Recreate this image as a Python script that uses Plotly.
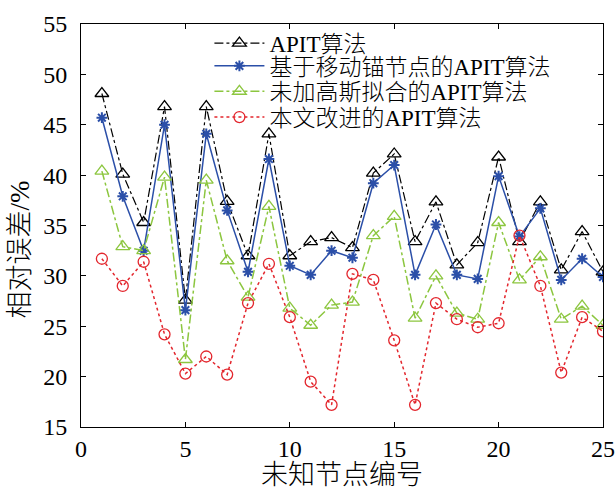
import plotly.graph_objects as go

nodes = list(range(1, 26))
apit = [48.1, 40.1, 35.3, 46.8, 27.6, 46.8, 37.4, 32.0, 44.1, 32.0, 33.4, 33.8, 32.8,
        40.2, 42.1, 33.4, 37.35, 31.1, 33.3, 41.8, 33.4, 37.35, 30.6, 34.4, 30.4]
mobile = [45.7, 37.9, 32.5, 45.0, 26.6, 44.1, 36.5, 30.4, 41.6, 31.0, 30.1, 32.5, 31.8,
          39.2, 41.0, 30.1, 35.1, 30.1, 29.7, 39.9, 33.9, 36.7, 29.6, 31.7, 29.9]
nogauss = [40.4, 32.9, 32.5, 39.8, 21.7, 39.5, 31.5, 27.9, 36.9, 26.8, 25.1, 27.1, 27.4,
           34.0, 35.9, 25.8, 30.0, 26.3, 25.7, 35.3, 29.6, 31.9, 25.7, 27.0, 25.1]
improved = [31.7, 29.0, 31.4, 24.2, 20.3, 22.0, 20.2, 27.3, 31.2, 25.9, 19.5, 17.2, 30.2,
            29.6, 23.6, 17.2, 27.3, 25.7, 24.9, 25.3, 34.0, 29.0, 20.4, 25.9, 24.5]
names = ["APIT算法", "基于移动锚节点的APIT算法", "未加高斯拟合的APIT算法", "本文改进的APIT算法"]
x_title = "未知节点编号"
y_title = "相对误差/%"

FONT = "Liberation Serif, Times New Roman, Noto Sans CJK SC, serif"

fig = go.Figure()
fig.add_trace(go.Scatter(x=nodes, y=apit, name=names[0], mode="lines+markers", legend="legend",
                         line=dict(color="black", width=1.2, dash="dashdot"),
                         marker=dict(symbol="triangle-up-open", size=12, color="black",
                                     line=dict(width=1.3, color="black"))))
fig.add_trace(go.Scatter(x=nodes, y=mobile, name=names[1], mode="lines+markers", legend="legend2",
                         line=dict(color="#2b4fa8", width=1.5),
                         marker=dict(symbol="asterisk-open", size=9, color="#2b4fa8",
                                     line=dict(width=2, color="#2b4fa8"))))
fig.add_trace(go.Scatter(x=nodes, y=nogauss, name=names[2], mode="lines+markers", legend="legend3",
                         line=dict(color="#8cc63f", width=1.5, dash="dashdot"),
                         marker=dict(symbol="triangle-up-open", size=12, color="#8cc63f",
                                     line=dict(width=1.3, color="#8cc63f"))))
fig.add_trace(go.Scatter(x=nodes, y=improved, name=names[3], mode="lines+markers", legend="legend4",
                         line=dict(color="#e3262d", width=1.5, dash="dot"),
                         marker=dict(symbol="circle-open", size=11, color="#e3262d",
                                     line=dict(width=1.3, color="#e3262d"))))

axis_common = dict(showgrid=False, zeroline=False, showline=True, linecolor="black",
                   linewidth=1, mirror="ticks", ticks="inside", ticklen=5, automargin=False,
                   tickcolor="black", tickfont=dict(family=FONT, size=24, color="black"))
fig.update_xaxes(range=[0, 25], tickvals=[0, 5, 10, 15, 20, 25], ticklabelstandoff=0,
                 title=dict(text=x_title, font=dict(family=FONT, size=27, color="black", weight=300),
                            standoff=1), **axis_common)
fig.update_yaxes(range=[15, 55], tickvals=[15, 20, 25, 30, 35, 40, 45, 50, 55], ticklabelstandoff=8,
                 **axis_common)

fig.add_annotation(text=y_title, xref="paper", yref="paper", x=-0.117, y=0.44,
                   xanchor="center", yanchor="middle", textangle=-90, showarrow=False,
                   font=dict(family=FONT, size=27, color="black", weight=300))

leg_rows = [0.9525, 0.896, 0.833, 0.769]
leg_common = dict(x=0.246, xanchor="left", yanchor="middle", bgcolor="rgba(0,0,0,0)",
                  borderwidth=0, font=dict(family=FONT, size=23, color="black", weight=300),
                  itemwidth=50)

fig.update_layout(
    width=616, height=490,
    margin=dict(l=81, r=13, t=24, b=63),
    paper_bgcolor="white", plot_bgcolor="white",
    font=dict(family=FONT, size=20, color="black"),
    legend=dict(y=leg_rows[0], **leg_common),
    legend2=dict(y=leg_rows[1], **leg_common),
    legend3=dict(y=leg_rows[2], **leg_common),
    legend4=dict(y=leg_rows[3], **leg_common),
    showlegend=True,
)

fig.write_html("out.html", config={"displayModeBar": False},
               post_script="document.body.style.margin='0';document.body.style.padding='0';")
